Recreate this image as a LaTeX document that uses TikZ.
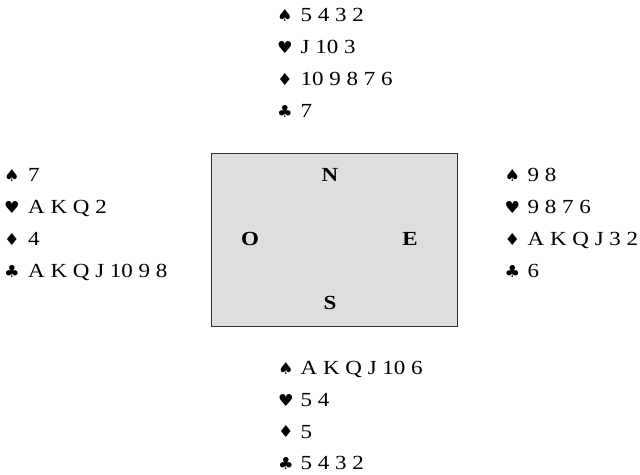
\documentclass[tikz,border=0pt]{standalone}
\usepackage{fontspec}
\setmainfont{Liberation Serif}[FakeStretch=1.15]
\newfontfamily\suitfont{DejaVu Sans}[FakeStretch=1.05]
\begin{document}
\begin{tikzpicture}[x=1pt,y=-1pt,
  holding/.style={anchor=base west,inner sep=0pt,font=\fontsize{20}{20}\selectfont},
  suit/.style={anchor=center,inner sep=0pt,font=\suitfont\fontsize{16.5}{16.5}\selectfont},
  seat/.style={anchor=center,inner sep=0pt,font=\fontsize{20}{20}\selectfont\bfseries},
  table/.style={draw=black!80,line width=1pt,fill=black!13}]
\useasboundingbox (0,0) rectangle (640,474);
% the table
\draw[table] (211.5,153) rectangle (457,326);
\node[seat] (N) at (330,175) {N};
\node[seat] (O) at (250,239) {O};
\node[seat] (E) at (410,239) {E};
\node[seat] (S) at (330,303) {S};
% North
\node[suit] (nS) at (285,15) {♠};   \node[holding] (nSh) at (300.5,21.6) {5 4 3 2};
\node[suit] (nH) at (285,47) {♥};   \node[holding] (nHh) at (300.5,53.6) {J 10 3};
\node[suit] (nD) at (285,79) {♦};   \node[holding] (nDh) at (300.5,85.6) {10 9 8 7 6};
\node[suit] (nC) at (285,111) {♣};  \node[holding] (nCh) at (300.5,117.6) {7};
% West
\node[suit] (wS) at (12,175) {♠};   \node[holding] (wSh) at (28,181.6) {7};
\node[suit] (wH) at (12,207) {♥};   \node[holding] (wHh) at (28,213.6) {A K Q 2};
\node[suit] (wD) at (12,239) {♦};   \node[holding] (wDh) at (28,245.6) {4};
\node[suit] (wC) at (12,271) {♣};   \node[holding] (wCh) at (28,277.6) {A K Q J 10 9 8};
% East
\node[suit] (eS) at (512.5,175) {♠}; \node[holding] (eSh) at (527.5,181.6) {9 8};
\node[suit] (eH) at (512.5,207) {♥}; \node[holding] (eHh) at (527.5,213.6) {9 8 7 6};
\node[suit] (eD) at (512.5,239) {♦}; \node[holding] (eDh) at (527.5,245.6) {A K Q J 3 2};
\node[suit] (eC) at (512.5,271) {♣}; \node[holding] (eCh) at (527.5,277.6) {6};
% South
\node[suit] (sS) at (286,368) {♠};  \node[holding] (sSh) at (300.5,374.6) {A K Q J 10 6};
\node[suit] (sH) at (286,400) {♥};  \node[holding] (sHh) at (300.5,406.6) {5 4};
\node[suit] (sD) at (286,431.5) {♦};  \node[holding] (sDh) at (300.5,438.1) {5};
\node[suit] (sC) at (286,463) {♣};  \node[holding] (sCh) at (300.5,469.6) {5 4 3 2};
\end{tikzpicture}
\end{document}
